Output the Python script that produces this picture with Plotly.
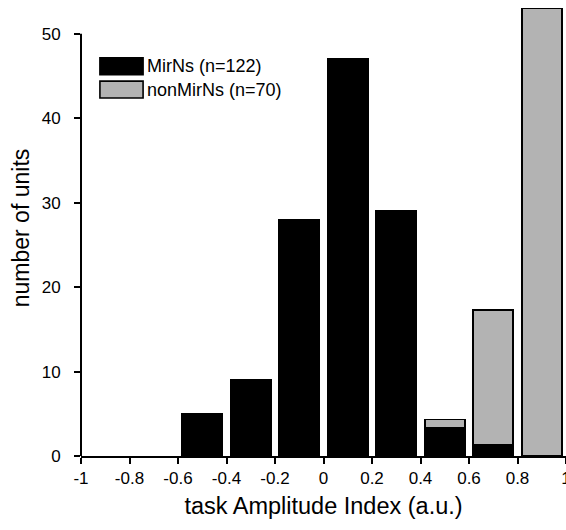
import plotly.graph_objects as go

# Histogram bins (centres) and counts
bin_centers = [-0.9, -0.7, -0.5, -0.3, -0.1, 0.1, 0.3, 0.5, 0.7, 0.9]
mirns_counts = [None, None, 5, 9, 28, 47, 29, 3.3, 1.3, None]
nonmirns_counts = [None, None, None, None, None, None, None, 1.0, 16.0, 53.0]
x_ticks = [-1, -0.8, -0.6, -0.4, -0.2, 0, 0.2, 0.4, 0.6, 0.8, 1]
x_ticktext = ["-1", "-0.8", "-0.6", "-0.4", "-0.2", "0", "0.2", "0.4", "0.6", "0.8", "1"]
y_ticks = [0, 10, 20, 30, 40, 50]
series_names = ["MirNs (n=122)", "nonMirNs (n=70)"]

FONT = "Liberation Sans, Arial, Helvetica, sans-serif"
GRAY = "#b3b3b3"

fig = go.Figure()
fig.add_trace(go.Bar(x=bin_centers, y=mirns_counts, width=0.165, name=series_names[0],
                     marker=dict(color="black", line=dict(color="black", width=1.6))))
fig.add_trace(go.Bar(x=bin_centers, y=nonmirns_counts, width=0.165, name=series_names[1],
                     marker=dict(color=GRAY, line=dict(color="black", width=1.6))))

# y axis line only from 0 to 50
fig.add_shape(type="line", xref="paper", yref="y", x0=0, x1=0, y0=0, y1=50,
              line=dict(color="black", width=2))

# custom legend
leg = [(0.873, 0.836, "black"), (0.822, 0.785, GRAY)]
for (y1, y0, col), name in zip(leg, series_names):
    fig.add_shape(type="rect", xref="paper", yref="paper", x0=0.039, x1=0.128, y0=y0, y1=y1,
                  fillcolor=col, line=dict(color="black", width=1.6))
    fig.add_annotation(xref="paper", yref="paper", x=0.131, y=(y0 + y1) / 2, text=name,
                       showarrow=False, xanchor="left", yanchor="middle",
                       font=dict(family=FONT, size=18, color="black"))

fig.update_layout(
    barmode="stack",
    width=566, height=530,
    margin=dict(l=81, r=0, t=0, b=74, autoexpand=False),
    plot_bgcolor="white", paper_bgcolor="white",
    showlegend=False,
    font=dict(family=FONT, size=17, color="black"),
    xaxis=dict(range=[-1, 1], tickvals=x_ticks, ticktext=x_ticktext, showgrid=False,
               zeroline=False, showline=True, linecolor="black", linewidth=2,
               ticks="outside", ticklen=6, tickwidth=1.5, tickcolor="black",
               ticklabeloverflow="allow", automargin=False,
               tickfont=dict(family=FONT, size=17, color="black"),
               title=dict(text="task Amplitude Index (a.u.)", standoff=10,
                          font=dict(family=FONT, size=23.5, color="black"))),
    yaxis=dict(range=[0, 54], tickvals=y_ticks, showgrid=False, zeroline=False,
               showline=False, ticks="outside", ticklen=6, tickwidth=1.5, tickcolor="black",
               ticklabelstandoff=10, automargin=False,
               tickfont=dict(family=FONT, size=17, color="black"),
               title=dict(text="number of units", standoff=5,
                          font=dict(family=FONT, size=23, color="black"))),
)

fig.write_html("out.html")
